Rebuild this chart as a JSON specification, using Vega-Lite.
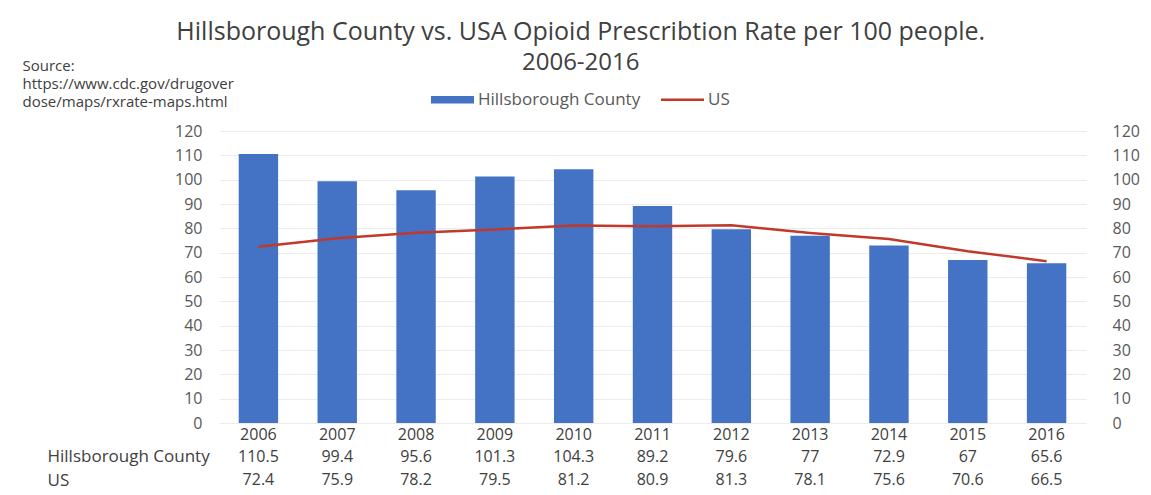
{
  "$schema": "https://vega.github.io/schema/vega-lite/v6.json",
  "background": "white",
  "padding": {"left": 22, "top": 20, "right": 5, "bottom": 3},
  "title": {
    "text": "Hillsborough County vs. USA Opioid Prescribtion Rate per 100 people.",
    "subtitle": "2006-2016",
    "font": "Open Sans", "fontSize": 25, "fontWeight": "normal", "color": "#404040",
    "subtitleFont": "Open Sans", "subtitleFontSize": 24, "subtitleColor": "#404040", "subtitlePadding": 6,
    "anchor": "middle", "frame": "bounds", "offset": -17
  },
  "config": {
    "font": "Open Sans",
    "view": {"stroke": null},
    "axis": {"labelFont": "Open Sans", "labelColor": "#595959", "labelFontSize": 16, "ticks": false, "domain": false}
  },
  "datasets": {
    "rates": [
      {"year": "2006", "series": "Hillsborough County", "value": 110.5},
      {"year": "2007", "series": "Hillsborough County", "value": 99.4},
      {"year": "2008", "series": "Hillsborough County", "value": 95.6},
      {"year": "2009", "series": "Hillsborough County", "value": 101.3},
      {"year": "2010", "series": "Hillsborough County", "value": 104.3},
      {"year": "2011", "series": "Hillsborough County", "value": 89.2},
      {"year": "2012", "series": "Hillsborough County", "value": 79.6},
      {"year": "2013", "series": "Hillsborough County", "value": 77},
      {"year": "2014", "series": "Hillsborough County", "value": 72.9},
      {"year": "2015", "series": "Hillsborough County", "value": 67},
      {"year": "2016", "series": "Hillsborough County", "value": 65.6},
      {"year": "2006", "series": "US", "value": 72.4},
      {"year": "2007", "series": "US", "value": 75.9},
      {"year": "2008", "series": "US", "value": 78.2},
      {"year": "2009", "series": "US", "value": 79.5},
      {"year": "2010", "series": "US", "value": 81.2},
      {"year": "2011", "series": "US", "value": 80.9},
      {"year": "2012", "series": "US", "value": 81.3},
      {"year": "2013", "series": "US", "value": 78.1},
      {"year": "2014", "series": "US", "value": 75.6},
      {"year": "2015", "series": "US", "value": 70.6},
      {"year": "2016", "series": "US", "value": 66.5}
    ]
  },
  "spacing": 3,
  "vconcat": [
    {
      "width": 867,
      "height": 292,
      "data": {"name": "rates"},
      "layer": [
        {
          "transform": [{"filter": "datum.series === 'Hillsborough County'"}],
          "mark": {"type": "bar"},
          "encoding": {
            "x": {"field": "year", "type": "ordinal", "scale": {"paddingInner": 0.5, "paddingOuter": 0.25},
                  "axis": {"title": null, "labelAngle": 0, "labelPadding": 3, "labelColor": "#404040", "labelFontSize": 16}},
            "y": {"field": "value", "type": "quantitative", "scale": {"domain": [0, 120]},
                  "axis": {"orient": "left", "values": [0,10,20,30,40,50,60,70,80,90,100,110,120], "labelPadding": 17,
                           "grid": true, "gridColor": "#ececec",
                           "title": ["Source:", "https://www.cdc.gov/drugover", "dose/maps/rxrate-maps.html"],
                           "titleAngle": 0, "titleAlign": "left", "titleBaseline": "top", "titleX": -197, "titleY": -73,
                           "titleFont": "Open Sans", "titleFontSize": 15, "titleFontWeight": "normal", "titleColor": "#404040", "titleLineHeight": 18}},
            "color": {"field": "series", "type": "nominal",
                      "scale": {"domain": ["Hillsborough County", "US"], "range": ["#4472C4", "#C0392B"]},
                      "legend": {"title": null, "orient": "none", "direction": "horizontal", "legendX": 212, "legendY": -53,
                                 "labelFontSize": 17, "labelLimit": 300, "labelColor": "#595959", "symbolSize": 1849, "columnPadding": 20, "labelOffset": 4,
                                 "encode": {"symbols": {"update": {
                                   "shape": {"signal": "datum.value === 'US' ? 'M-1,-0.06H1V0.06H-1Z' : 'M-1,-0.17H1V0.17H-1Z'"},
                                   "fill": {"signal": "datum.value === 'US' ? '#C0392B' : '#4472C4'"},
                                   "strokeWidth": {"value": 0}}}}}}
          }
        },
        {
          "transform": [{"filter": "datum.series === 'US'"}],
          "mark": {"type": "line", "strokeWidth": 2.5},
          "encoding": {
            "x": {"field": "year", "type": "ordinal"},
            "y": {"field": "value", "type": "quantitative", "scale": {"domain": [0, 120]},
                  "axis": {"orient": "right", "values": [0,10,20,30,40,50,60,70,80,90,100,110,120], "labelPadding": 26, "labelAlign": "left", "grid": false, "title": null}},
            "color": {"field": "series", "type": "nominal"}
          }
        }
      ],
      "resolve": {"scale": {"y": "independent"}}
    },
    {
      "width": 867,
      "height": 47,
      "data": {"name": "rates"},
      "mark": {"type": "text", "fontSize": 16, "color": "#404040", "font": "Open Sans"},
      "encoding": {
        "x": {"field": "year", "type": "ordinal", "scale": {"paddingInner": 0.5, "paddingOuter": 0.25}, "axis": null},
        "y": {"field": "series", "type": "nominal", "sort": ["Hillsborough County", "US"],
              "axis": {"title": null, "labelAlign": "left", "labelPadding": 172, "labelColor": "#404040", "labelFontSize": 17}},
        "text": {"field": "value", "type": "quantitative"}
      }
    }
  ]
}
